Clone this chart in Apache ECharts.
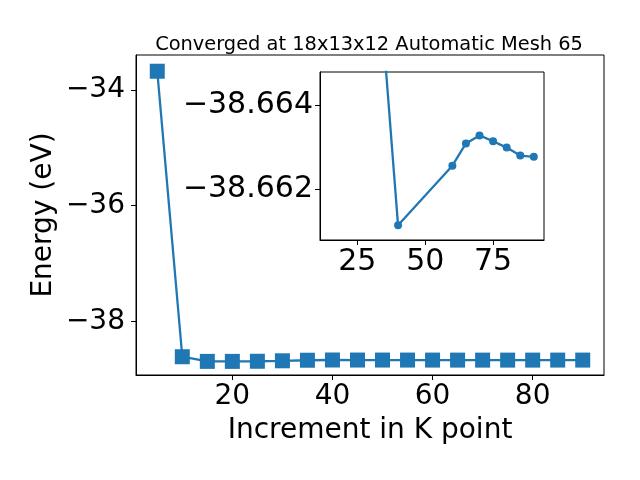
<!DOCTYPE html>
<html><head><meta charset="utf-8">
<script src="https://cdn.jsdelivr.net/npm/echarts@6/dist/echarts.min.js"></script>
<style>html,body{margin:0;padding:0;background:#fff}#c{width:640px;height:480px}</style>
</head><body><div id="c"></div>
<script>
const kPoints = [5,10,15,20,25,30,35,40,45,50,55,60,65,70,75,80,85,90];
const energies = [-33.68,-38.605,-38.685,-38.685,-38.683,-38.675,-38.6653,-38.6612,-38.662,-38.6622,-38.6624,-38.66257,-38.6631,-38.66329,-38.66315,-38.6630,-38.66281,-38.66278];
const insetK = [15,20,25,30,35,40,60,65,70,75,80,85,90];
const insetE = [-38.685,-38.685,-38.683,-38.675,-38.6653,-38.66115,-38.66257,-38.6631,-38.66329,-38.66315,-38.6630,-38.66281,-38.66278];
const mainXTicks = [20,40,60,80];
const mainYTicks = [-38,-36,-34];
const insetXTicks = [25,50,75];
const insetYTicks = [-38.664,-38.662];
const titleText = 'Converged at 18x13x12 Automatic Mesh 65';

const FONT = 'DejaVu Sans';
const C = '#1f77b4';
const minus = s => String(s).replace('-', '\u2212');
function axisCommon(ticks, fmt, fs, margin) {
  return {
    axisLine: {show: true, onZero: false, lineStyle: {color: '#000', width: 1}},
    axisTick: {show: true, inside: false, length: 5, lineStyle: {color: '#000', width: 1}, customValues: ticks},
    axisLabel: {show: true, color: '#000', fontFamily: FONT, fontSize: fs, margin: margin, customValues: ticks, formatter: fmt},
    splitLine: {show: false}
  };
}
const chart = echarts.init(document.getElementById('c'), null, {renderer: 'canvas'});
chart.setOption({
  animation: false,
  backgroundColor: '#fff',
  title: {text: titleText, left: 364, top: 30, textAlign: 'center',
    textStyle: {fontFamily: FONT, fontSize: 19.4, fontWeight: 'normal', color: '#000'}},
  grid: [
    {left: 136, right: 36, top: 55, bottom: 105, show: true, borderColor: '#000', borderWidth: 1, backgroundColor: '#fff'},
    {left: 320, right: 96, top: 72, bottom: 240, show: true, borderColor: '#000', borderWidth: 1, backgroundColor: '#fff'}
  ],
  xAxis: [
    Object.assign({type: 'value', gridIndex: 0, min: 0.75, max: 94.25,
      name: 'Increment in K point', nameLocation: 'middle', nameGap: 42, nameMoveOverlap: false,
      nameTextStyle: {fontFamily: FONT, fontSize: 28, color: '#000'}},
      axisCommon(mainXTicks, v => minus(v), 28, 8)),
    Object.assign({type: 'value', gridIndex: 1, min: 11.25, max: 93.75},
      axisCommon(insetXTicks, v => minus(v), 30, 7))
  ],
  yAxis: [
    Object.assign({type: 'value', gridIndex: 0, min: -38.92, max: -33.40,
      name: 'Energy (eV)', nameLocation: 'middle', nameGap: 78, nameMoveOverlap: false,
      nameTextStyle: {fontFamily: FONT, fontSize: 28, color: '#000'}},
      axisCommon(mainYTicks, v => minus(Math.round(v)), 28, 11)),
    Object.assign({type: 'value', gridIndex: 1, inverse: true, min: -38.6648, max: -38.6608},
      axisCommon(insetYTicks, v => minus(v.toFixed(3)), 30, 7))
  ],
  series: [
    {type: 'line', xAxisIndex: 0, yAxisIndex: 0, data: kPoints.map((k, i) => [k, energies[i]]),
      symbol: 'rect', symbolSize: 15, showAllSymbol: true, itemStyle: {color: C},
      lineStyle: {color: C, width: 2.3}, z: 3},
    {type: 'line', xAxisIndex: 1, yAxisIndex: 1, data: insetK.map((k, i) => [k, insetE[i]]),
      symbol: 'circle', symbolSize: 8, showAllSymbol: true, clip: true, itemStyle: {color: C},
      lineStyle: {color: C, width: 2.3}, z: 4}
  ]
});
</script></body></html>
